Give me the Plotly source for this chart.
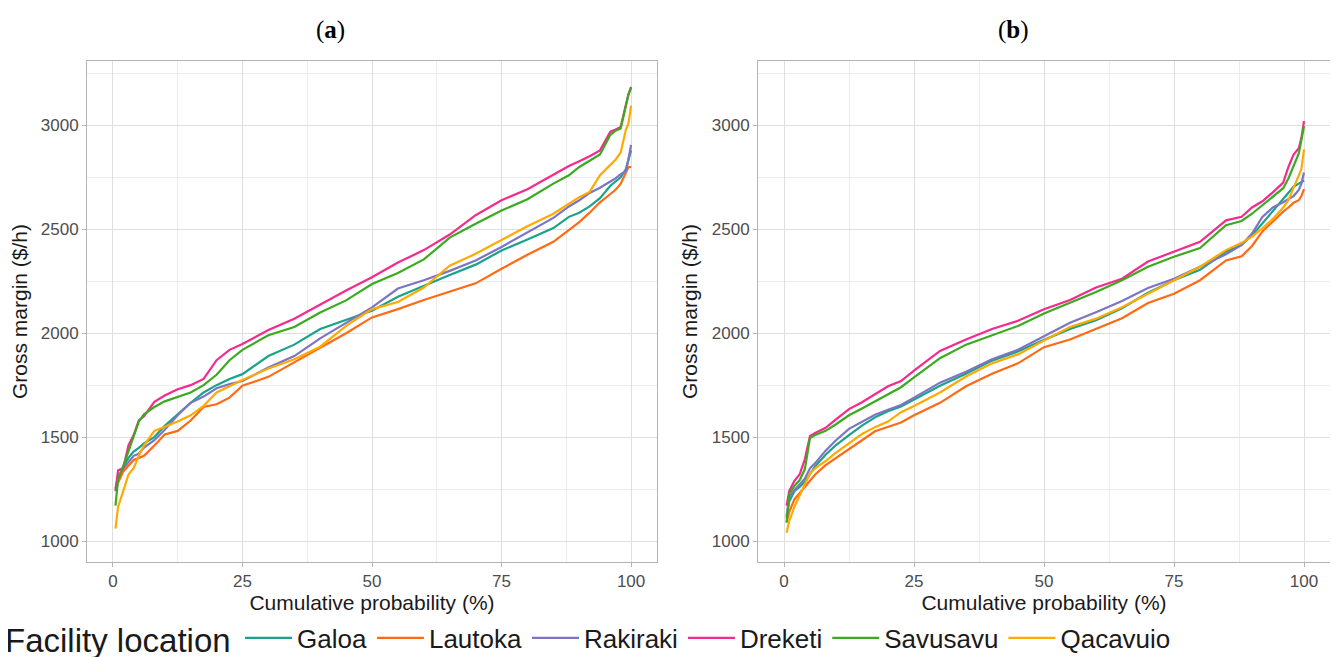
import plotly.graph_objects as go

# cumulative probability grid (%)
prob = [0.5, 1, 2, 3, 4, 5, 6, 8, 10, 12.5, 15, 17.5, 20, 22.5, 25, 30, 35, 40, 45, 50,
        55, 60, 65, 70, 75, 80, 85, 88, 90, 92, 94, 96, 97, 98, 99, 99.5, 100]

locations = ["Galoa", "Lautoka", "Rakiraki", "Dreketi", "Savusavu", "Qacavuio"]
colors = ["#1AA38A", "#FF6A13", "#7C74C4", "#F52A8C", "#3AAA1E", "#FFAA00"]

# Panel (a) gross margin ($/h)
a_galoa = [1250, 1290, 1360, 1400, 1430, 1448, 1470, 1500, 1555, 1610, 1665, 1715, 1750, 1780, 1803,
           1890, 1945, 2020, 2065, 2108, 2175, 2229, 2280, 2330, 2398, 2451, 2506, 2560, 2580, 2610,
           2650, 2710, 2730, 2750, 2790, 2834, 2880]
a_lautoka = [1240, 1280, 1335, 1360, 1390, 1400, 1410, 1460, 1513, 1530, 1580, 1645, 1658, 1690, 1747,
             1790, 1860, 1930, 2000, 2076, 2116, 2160, 2200, 2240, 2310, 2378, 2440, 2495, 2535, 2580,
             2630, 2670, 2690, 2720, 2770, 2800, 2800]
a_rakiraki = [1255, 1310, 1350, 1380, 1410, 1420, 1450, 1485, 1535, 1605, 1665, 1695, 1735, 1755, 1770,
              1835, 1890, 1975, 2050, 2124, 2215, 2255, 2300, 2350, 2415, 2485, 2555, 2610, 2640, 2675,
              2700, 2730, 2745, 2765, 2780, 2840, 2906]
a_dreketi = [1240, 1340, 1350, 1460, 1510, 1580, 1600, 1670, 1700, 1730, 1750, 1780, 1870, 1920, 1948,
             2015, 2070, 2140, 2206, 2269, 2340, 2400, 2475, 2568, 2640, 2693, 2765, 2805, 2828, 2852,
             2880, 2970, 2980, 2993, 3100, 3150, 3185]
a_savusavu = [1170, 1298, 1360, 1430, 1495, 1575, 1610, 1645, 1672, 1695, 1715, 1750, 1800, 1870, 1920,
              1990, 2030, 2100, 2158, 2237, 2290, 2355, 2460, 2527, 2590, 2645, 2720, 2760, 2800, 2830,
              2860, 2955, 2975, 2985, 3100, 3150, 3180]
a_qacavuio = [1060, 1165, 1240, 1320, 1350, 1410, 1460, 1530, 1550, 1575, 1605, 1650, 1715, 1745, 1775,
              1830, 1875, 1935, 2035, 2116, 2150, 2220, 2325, 2382, 2450, 2515, 2575, 2625, 2655, 2680,
              2760, 2810, 2835, 2870, 2980, 3011, 3095]

# Panel (b) gross margin ($/h)
b_galoa = [1110, 1190, 1240, 1260, 1285, 1325, 1360, 1415, 1462, 1510, 1555, 1595, 1625, 1647, 1680,
           1747, 1805, 1868, 1912, 1968, 2020, 2062, 2120, 2195, 2255, 2305, 2392, 2425, 2470, 2530,
           2585, 2645, 2675, 2705, 2720, 2728, 2735]
b_lautoka = [1090, 1140, 1200, 1230, 1255, 1289, 1320, 1365, 1400, 1445, 1485, 1528, 1548, 1570, 1605,
             1665, 1745, 1805, 1855, 1933, 1970, 2021, 2072, 2145, 2190, 2255, 2350, 2370, 2420, 2490,
             2540, 2585, 2605, 2628, 2640, 2660, 2693]
b_rakiraki = [1120, 1210, 1245, 1270, 1300, 1350, 1375, 1435, 1485, 1540, 1575, 1608, 1632, 1655, 1690,
              1762, 1815, 1875, 1920, 1985, 2050, 2101, 2155, 2218, 2262, 2320, 2380, 2425, 2480, 2560,
              2605, 2630, 2645, 2660, 2690, 2720, 2773]
b_dreketi = [1170, 1240, 1290, 1320, 1393, 1506, 1520, 1545, 1585, 1635, 1668, 1705, 1745, 1770, 1820,
             1915, 1970, 2020, 2060, 2115, 2160, 2220, 2262, 2345, 2392, 2440, 2543, 2560, 2605, 2635,
             2678, 2725, 2800, 2860, 2890, 2940, 3021]
b_savusavu = [1088, 1225, 1265, 1292, 1345, 1495, 1510, 1530, 1562, 1605, 1638, 1672, 1710, 1740, 1788,
              1880, 1945, 1990, 2035, 2095, 2145, 2198, 2255, 2320, 2368, 2410, 2520, 2540, 2575, 2615,
              2655, 2698, 2745, 2810, 2865, 2930, 2997]
b_qacavuio = [1040, 1096, 1165, 1218, 1265, 1325, 1350, 1385, 1425, 1470, 1515, 1548, 1575, 1620, 1650,
              1715, 1792, 1855, 1898, 1965, 2030, 2070, 2125, 2190, 2255, 2320, 2400, 2435, 2465, 2505,
              2550, 2605, 2640, 2700, 2755, 2790, 2885]

panel_a = [a_galoa, a_lautoka, a_rakiraki, a_dreketi, a_savusavu, a_qacavuio]
panel_b = [b_galoa, b_lautoka, b_rakiraki, b_dreketi, b_savusavu, b_qacavuio]

x_ticks = [0, 25, 50, 75, 100]
y_ticks = [1000, 1500, 2000, 2500, 3000]

fig = go.Figure()
for name, col, ya in zip(locations, colors, panel_a):
    fig.add_trace(go.Scatter(x=prob, y=ya, mode="lines", name=name, legendgroup=name,
                             line=dict(color=col, width=2.2), xaxis="x", yaxis="y"))
for name, col, yb in zip(locations, colors, panel_b):
    fig.add_trace(go.Scatter(x=prob, y=yb, mode="lines", name=name, legendgroup=name,
                             showlegend=False, line=dict(color=col, width=2.2), xaxis="x2", yaxis="y2"))

FONT = "Liberation Sans, Arial, sans-serif"
tick_font = dict(family=FONT, size=17, color="#4d4d4d")
title_font = dict(family=FONT, size=21, color="#1a1a1a")

def xaxis_cfg(domain, anchor):
    return dict(domain=domain, anchor=anchor, range=[-5, 105], tickvals=x_ticks,
                automargin=False,
                showgrid=True, gridcolor="#dedede", gridwidth=1,
                minor=dict(dtick=12.5, tick0=0, showgrid=True, gridcolor="#ececec", gridwidth=1),
                showline=True, mirror=True, linecolor="#b3b3b3", linewidth=1,
                ticks="outside", ticklen=4, tickcolor="#b3b3b3", tickfont=tick_font,
                zeroline=False,
                title=dict(text="Cumulative probability (%)", font=title_font, standoff=4))

def yaxis_cfg(domain, anchor):
    return dict(domain=domain, anchor=anchor, range=[899, 3310], tickvals=y_ticks,
                automargin=False,
                showgrid=True, gridcolor="#dedede", gridwidth=1,
                minor=dict(dtick=250, tick0=0, showgrid=True, gridcolor="#ececec", gridwidth=1),
                showline=True, mirror=True, linecolor="#b3b3b3", linewidth=1,
                ticks="outside", ticklen=4, tickcolor="#b3b3b3", tickfont=tick_font,
                zeroline=False,
                title=dict(text="Gross margin ($/h)", font=title_font, standoff=8))

# page is offset by the 8px body margin
OFF = 8
W, H = 1338 - OFF, 657 - OFF

def px_x(v):
    return (v - OFF) / W

def px_y(v):
    return 1 - (v - OFF) / H

ydom = [px_y(562), px_y(61)]
fig.update_layout(
    width=W, height=H,
    margin=dict(l=0, r=0, t=0, b=0, autoexpand=False),
    paper_bgcolor="white", plot_bgcolor="white",
    xaxis=xaxis_cfg([px_x(87), px_x(657)], "y"),
    yaxis=yaxis_cfg(ydom, "x"),
    xaxis2=xaxis_cfg([px_x(758), px_x(1330)], "y2"),
    yaxis2=yaxis_cfg(ydom, "x2"),
    showlegend=True,
    legend=dict(orientation="h", x=px_x(240), xanchor="left", y=px_y(638), yanchor="middle",
                font=dict(family=FONT, size=26, color="#1a1a1a"),
                itemwidth=47, tracegroupgap=0, bgcolor="rgba(0,0,0,0)"),
    annotations=[
        dict(text="(<b>a</b>)", x=px_x(330), y=px_y(30), xref="paper", yref="paper",
             xanchor="center", yanchor="middle",
             showarrow=False, font=dict(family="Liberation Serif, serif", size=25, color="black")),
        dict(text="(<b>b</b>)", x=px_x(1013), y=px_y(30), xref="paper", yref="paper",
             xanchor="center", yanchor="middle",
             showarrow=False, font=dict(family="Liberation Serif, serif", size=25, color="black")),
        dict(text="Facility location", x=px_x(3), y=px_y(640), xref="paper", yref="paper",
             xanchor="left", yanchor="middle",
             showarrow=False, font=dict(family=FONT, size=33, color="#1a1a1a")),
    ],
)

fig.write_html("out.html")
